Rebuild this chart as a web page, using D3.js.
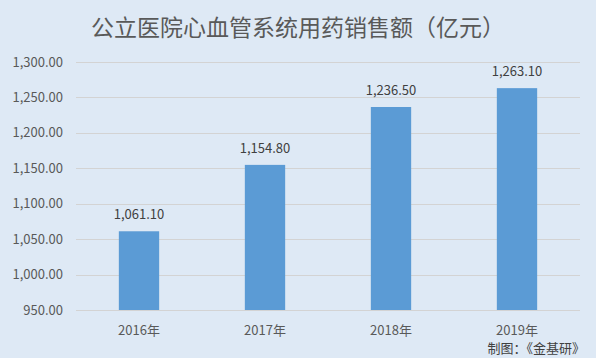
<!DOCTYPE html>
<html>
<head>
<meta charset="utf-8">
<script src="https://cdn.jsdelivr.net/npm/d3@7"></script>
<style>
  body { margin: 0; background: #dee9f5; }
  text { font-family: "Noto Sans CJK SC", "DejaVu Sans", sans-serif; }
</style>
</head>
<body>
<div id="chart"></div>
<script>
var years = ["2016年", "2017年", "2018年", "2019年"];
var sales = [1061.10, 1154.80, 1236.50, 1263.10];
var yTicks = [950, 1000, 1050, 1100, 1150, 1200, 1250, 1300];

var W = 596, H = 358;
var margins = { top: 62, right: 16, bottom: 48, left: 76 },
  width = W - margins.left - margins.right,
  height = H - margins.top - margins.bottom;

var svg = d3.select("#chart").append("svg")
  .attr("width", W).attr("height", H);

svg.append("rect").attr("width", W).attr("height", H).attr("fill", "#dee9f5");

var g = svg.append("g")
  .attr("transform", "translate(" + margins.left + "," + margins.top + ")");

var x = d3.scaleBand().domain(years).range([0, width]).paddingInner(0.68).paddingOuter(0.34);
var y = d3.scaleLinear().domain([950, 1300]).range([height, 0]);
var fmt = d3.format(",.2f");

// gridlines
g.selectAll(".grid").data(yTicks).enter().append("line")
  .attr("x1", 0).attr("x2", width)
  .attr("y1", function (d) { return Math.round(y(d)) + 0.5; })
  .attr("y2", function (d) { return Math.round(y(d)) + 0.5; })
  .attr("stroke", "#d3d3d3").attr("stroke-width", 1);

// y labels
g.selectAll(".ylab").data(yTicks).enter().append("text")
  .attr("x", -13).attr("y", function (d) { return y(d); })
  .attr("dy", "0.35em").attr("text-anchor", "end")
  .attr("fill", "#595959").style("font-size", "13px")
  .text(function (d) { return fmt(d); });

// bars
g.selectAll(".bar").data(sales).enter().append("rect")
  .attr("x", function (d, i) { return x(years[i]); })
  .attr("width", x.bandwidth())
  .attr("y", function (d) { return y(d); })
  .attr("height", function (d) { return height - y(d); })
  .attr("fill", "#5b9bd5");

// value labels
g.selectAll(".val").data(sales).enter().append("text")
  .attr("x", function (d, i) { return x(years[i]) + x.bandwidth() / 2; })
  .attr("y", function (d) { return y(d) - 12; })
  .attr("text-anchor", "middle")
  .attr("fill", "#404040").style("font-size", "13px")
  .text(function (d) { return fmt(d); });

// x labels
g.selectAll(".xlab").data(years).enter().append("text")
  .attr("x", function (d) { return x(d) + x.bandwidth() / 2; })
  .attr("y", height + 25)
  .attr("text-anchor", "middle")
  .attr("fill", "#595959").style("font-size", "13px")
  .text(function (d) { return d; });

// title
svg.append("text")
  .attr("x", 298).attr("y", 36)
  .attr("text-anchor", "middle")
  .attr("fill", "#595959").style("font-size", "23px")
  .text("公立医院心血管系统用药销售额（亿元）");

// source
svg.append("text")
  .attr("x", 585).attr("y", 353)
  .attr("text-anchor", "end")
  .attr("fill", "#404040").style("font-size", "13px")
  .text("制图：《金基研》");
</script>
</body>
</html>
